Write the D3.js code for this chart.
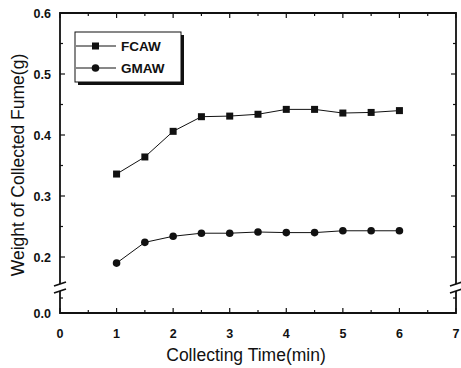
<!DOCTYPE html>
<html>
<head>
<meta charset="utf-8">
<script src="https://cdn.jsdelivr.net/npm/d3@7"></script>
<style>
  body { margin: 0; background: #fff; }
  text { font-family: "Liberation Sans", Arial, sans-serif; fill: #111; }
</style>
</head>
<body>
<div id="chart"></div>
<script>
var times = [1, 1.5, 2, 2.5, 3, 3.5, 4, 4.5, 5, 5.5, 6];
var fcaw = [0.336, 0.364, 0.406, 0.430, 0.431, 0.434, 0.442, 0.442, 0.436, 0.437, 0.440];
var gmaw = [0.190, 0.224, 0.234, 0.239, 0.239, 0.241, 0.240, 0.240, 0.243, 0.243, 0.243];
var xTicks = [0, 1, 2, 3, 4, 5, 6, 7];
var yTicks = [0.0, 0.2, 0.3, 0.4, 0.5, 0.6];
var yMinor = [0.25, 0.35, 0.45, 0.55];
var seriesNames = ["FCAW", "GMAW"];

var width = 461, height = 368;
var plotL = 60, plotR = 456, plotT = 13, plotB = 313;

var svg = d3.select("#chart").append("svg")
  .attr("width", width)
  .attr("height", height);

var x = d3.scaleLinear().domain([0, 7]).range([plotL, plotR]);
// broken axis: 0.0 - 0.04 then jump to 0.15 - 0.6
var y = d3.scaleLinear().domain([0, 0.04, 0.15, 0.6]).range([plotB, 289, 287.5, plotT]);

// ticks (inward) on all four sides
var tk = svg.append("g").attr("stroke", "#111").attr("stroke-width", 1.2);
xTicks.forEach(function (t) {
  tk.append("line").attr("x1", x(t)).attr("x2", x(t)).attr("y1", plotB).attr("y2", plotB - 5);
  tk.append("line").attr("x1", x(t)).attr("x2", x(t)).attr("y1", plotT).attr("y2", plotT + 5);
  if (t < 7) {
    tk.append("line").attr("x1", x(t + 0.5)).attr("x2", x(t + 0.5)).attr("y1", plotB).attr("y2", plotB - 3);
    tk.append("line").attr("x1", x(t + 0.5)).attr("x2", x(t + 0.5)).attr("y1", plotT).attr("y2", plotT + 3);
  }
});
yTicks.forEach(function (t) {
  tk.append("line").attr("x1", plotL).attr("x2", plotL + 5).attr("y1", y(t)).attr("y2", y(t));
  tk.append("line").attr("x1", plotR).attr("x2", plotR - 5).attr("y1", y(t)).attr("y2", y(t));
});
yMinor.concat([0.025]).forEach(function (t) {
  tk.append("line").attr("x1", plotL).attr("x2", plotL + 3).attr("y1", y(t)).attr("y2", y(t));
  tk.append("line").attr("x1", plotR).attr("x2", plotR - 3).attr("y1", y(t)).attr("y2", y(t));
});

// frame with breaks in the side axes
var fr = svg.append("g").attr("stroke", "#111").attr("stroke-width", 1.8).attr("fill", "none");
var bTop = 284, bBot = 291;
fr.append("path").attr("d",
  "M" + plotL + "," + bTop + "V" + plotT + "H" + plotR + "V" + bTop +
  "M" + plotR + "," + bBot + "V" + plotB + "H" + plotL + "V" + bBot);
[plotL, plotR].forEach(function (bx) {
  fr.append("line").attr("x1", bx - 6).attr("x2", bx + 6).attr("y1", bTop + 2).attr("y2", bTop - 2);
  fr.append("line").attr("x1", bx - 6).attr("x2", bx + 6).attr("y1", bBot + 2).attr("y2", bBot - 2);
});

// tick labels
svg.append("g").selectAll("text").data(xTicks).join("text")
  .attr("x", function (d) { return x(d); })
  .attr("y", 338)
  .attr("text-anchor", "middle")
  .attr("font-size", 12.5).attr("font-weight", "bold")
  .text(function (d) { return d; });
svg.append("g").selectAll("text").data(yTicks).join("text")
  .attr("x", 51)
  .attr("y", function (d) { return y(d) + 4.5; })
  .attr("text-anchor", "end")
  .attr("font-size", 12.5).attr("font-weight", "bold")
  .text(function (d) { return d.toFixed(1); });

// axis titles
svg.append("text")
  .attr("x", 246).attr("y", 361)
  .attr("text-anchor", "middle").attr("font-size", 17.5)
  .text("Collecting Time(min)");
svg.append("text")
  .attr("transform", "translate(24," + 165 + ") rotate(-90)")
  .attr("text-anchor", "middle").attr("font-size", 17.5)
  .text("Weight of Collected Fume(g)");

// series
var line = d3.line().x(function (d) { return x(d[0]); }).y(function (d) { return y(d[1]); });
function draw(vals, shape) {
  var pts = times.map(function (t, i) { return [t, vals[i]]; });
  svg.append("path").datum(pts).attr("d", line)
    .attr("fill", "none").attr("stroke", "#111").attr("stroke-width", 1);
  var g = svg.append("g");
  pts.forEach(function (p) {
    if (shape === "square") {
      g.append("rect").attr("x", x(p[0]) - 3.5).attr("y", y(p[1]) - 3.5)
        .attr("width", 7).attr("height", 7).attr("fill", "#111");
    } else {
      g.append("circle").attr("cx", x(p[0])).attr("cy", y(p[1])).attr("r", 3.8).attr("fill", "#111");
    }
  });
}
draw(fcaw, "square");
draw(gmaw, "circle");

// legend
var lg = svg.append("g");
lg.append("rect").attr("x", 78).attr("y", 35).attr("width", 106).attr("height", 50).attr("fill", "#111");
lg.append("rect").attr("x", 75).attr("y", 32).attr("width", 106).attr("height", 50)
  .attr("fill", "#fff").attr("stroke", "#111").attr("stroke-width", 1);
seriesNames.forEach(function (name, i) {
  var ly = 46 + i * 22;
  lg.append("line").attr("x1", 76).attr("x2", 116).attr("y1", ly).attr("y2", ly)
    .attr("stroke", "#111").attr("stroke-width", 1);
  if (i === 0) {
    lg.append("rect").attr("x", 92).attr("y", ly - 3.5).attr("width", 7).attr("height", 7).attr("fill", "#111");
  } else {
    lg.append("circle").attr("cx", 95.5).attr("cy", ly).attr("r", 3.8).attr("fill", "#111");
  }
  lg.append("text").attr("x", 121).attr("y", ly + 5)
    .attr("font-size", 13.5).attr("font-weight", "bold").text(name);
});
</script>
</body>
</html>
